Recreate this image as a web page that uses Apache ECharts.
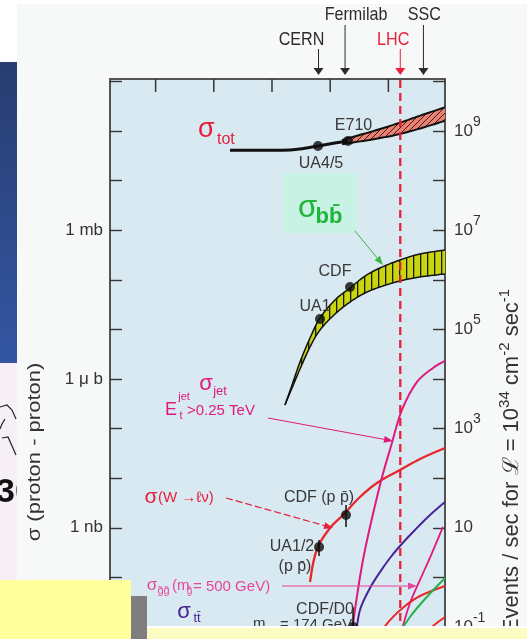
<!DOCTYPE html>
<html>
<head>
<meta charset="utf-8">
<title>σ (proton - proton)</title>
<script src="https://cdn.jsdelivr.net/npm/echarts@6.0.0/dist/echarts.min.js"></script>
<style>
html,body{margin:0;padding:0;background:#ffffff;overflow:hidden}
#chart{width:527px;height:639px}
</style>
</head>
<body>
<div id="chart"></div>
<script>
// ---------- DATA  (√s in TeV ; rate = events / sec for L = 1e34 cm^-2 s^-1) ----------
const accelerators = ['CERN', 'Fermilab', 'LHC', 'SSC'];
const accelEnergy  = [0.63, 1.8, 16, 40];

const totEnergy = [0.019, 0.05, 0.15, 0.3, 0.62, 1.2, 2.0];
const totRate   = [4.1e8, 4.1e8, 4.1e8, 4.33e8, 5.0e8, 5.7e8, 6.3e8];
const totBandEnergy = [1.6, 2.0, 5.9, 15.8, 42.4, 93.9];
const totBandUpper  = [6.5e8, 7.1e8, 1.02e9, 1.47e9, 2.2e9, 3.0e9];
const totBandLower  = [5.4e8, 5.65e8, 6.9e8, 8.7e8, 1.2e9, 1.61e9];

const bbEnergy = [0.167, 0.221, 0.303, 0.450, 0.668, 1.21, 2.19, 3.96, 7.17, 15.8, 34.9, 93.9];
const bbUpper  = [2990, 7570, 2.2e4, 6.71e4, 1.70e5, 3.92e5, 6.84e5, 1.19e6, 1.73e6, 2.51e6, 3.31e6, 3.99e6];
const bbLower  = [2990, 6590, 1.59e4, 4.42e4, 9.73e4, 2.04e5, 3.56e5, 5.42e5, 7.16e5, 9.46e5, 1.14e6, 1.31e6];

const wEnergy = [0.450, 0.593, 0.992, 1.66, 3.25, 6.37, 15.8, 34.9, 93.9];
const wRate   = [0.807, 3.74, 9.91, 18.1, 41.8, 80, 146, 244, 406];

const jetEnergy = [2.3, 3.66, 7.17, 11.5, 17.1, 31.0, 58.4, 93.9];
const jetRate   = [0.063, 2.24, 72.9, 513, 2372, 8710, 1.67e4, 2.31e4];

const ttEnergy = [2.77, 3.25, 4.83, 7.17, 10.65, 15.8, 28.6, 51.9, 93.9];
const ttRate   = [0.063, 0.22, 0.611, 1.28, 2.46, 4.30, 9.03, 18.1, 33.1];

const gluinoEnergy = [15.8, 23.5, 34.9, 56.1, 86.7];
const gluinoRate   = [0.063, 0.305, 0.887, 3.10, 10.4];

const redAEnergy  = [5.89, 10.65, 19.3, 34.9, 93.9];
const redARate    = [0.0547, 0.138, 0.265, 0.422, 0.671];
const greenEnergy = [12.98, 23.5, 42.5, 93.9];
const greenRate   = [0.0547, 0.159, 0.367, 0.973];
const redBEnergy  = [34.9, 56.1, 93.9];
const redBRate    = [0.0547, 0.1, 0.159];

const pointNames   = ['UA4/5', 'E710', 'UA1', 'CDF', 'UA1/2', 'CDF (p p̄)', 'CDF/D0'];
const pointEnergy  = [0.617, 2.02, 0.668, 2.19, 0.643, 1.87, 2.47];
const pointRate    = [4.99e8, 6.28e8, 1.62e5, 7.16e5, 4.1, 18.1, 0.1];
const pointErrLow  = [null, null, null, null, 2.7, 10.4, 0.1];
const pointErrHigh = [null, null, null, null, 5.68, 28.8, 0.25];

const xTickValues      = [1e-3, 1e-2, 1e-1, 1, 10];
const leftTickDecades  = [7, 4, 1];
const leftTickLabels   = ['1 mb', '1 μ b', '1 nb'];
const rightTickDecades = [9, 7, 5, 3, 1, -1];

const xMin = 1.646e-4, xMax = 93.9;
const yMin = 0.1, yMax = 1.117e10;

// ---------- helpers ----------
const FONT  = '"Liberation Sans", Arial, sans-serif';
const RED = '#e3213c', MAG = '#e0197c', MAG2 = '#e8459a', PUR = '#4a2399', GRN = '#1fb43a', GRAY = '#383838';
const pair = (xs, ys) => xs.map((x, i) => [x, ys[i]]);

function catmull(pts, seg) {
  if (pts.length < 3) return pts;
  const out = [];
  for (let i = 0; i < pts.length - 1; i++) {
    const p0 = pts[Math.max(i - 1, 0)], p1 = pts[i], p2 = pts[i + 1], p3 = pts[Math.min(i + 2, pts.length - 1)];
    for (let t = 0; t < seg; t++) {
      const s = t / seg, s2 = s * s, s3 = s2 * s;
      const f = k => 0.5 * ((2 * p1[k]) + (-p0[k] + p2[k]) * s + (2 * p0[k] - 5 * p1[k] + 4 * p2[k] - p3[k]) * s2 + (-p0[k] + 3 * p1[k] - 3 * p2[k] + p3[k]) * s3);
      out.push([f(0), f(1)]);
    }
  }
  out.push(pts[pts.length - 1]);
  return out;
}
function pattern(w, h, bg, draw) {
  const c = document.createElement('canvas'); c.width = w; c.height = h;
  const g = c.getContext('2d'); g.fillStyle = bg; g.fillRect(0, 0, w, h); draw(g);
  return {image: c, repeat: 'repeat'};
}
const bbFill = pattern(7, 7, '#c9d50e', g => { g.fillStyle = '#1a1a1a'; g.fillRect(0, 0, 1.3, 7); });
const totFill = pattern(6, 6, '#e98272', g => {
  g.strokeStyle = '#2a100c'; g.lineWidth = 0.9;
  g.beginPath(); g.moveTo(-1, 7); g.lineTo(7, -1); g.stroke();
});

function bandSeries(E, up, lo, fill, edgeColor, edgeWidth, z) {
  return {
    type: 'custom', coordinateSystem: 'cartesian2d', clip: true, z: z, silent: true,
    data: [[E[0], up[0]]],
    renderItem: function (params, api) {
      const top = catmull(E.map((e, i) => api.coord([e, up[i]])), 10);
      const bot = catmull(E.map((e, i) => api.coord([e, lo[i]])), 10);
      const poly = top.concat(bot.slice().reverse());
      return {type: 'group', children: [
        {type: 'polygon', shape: {points: poly}, style: {fill: fill, stroke: null}},
        {type: 'polyline', shape: {points: top}, style: {stroke: edgeColor, lineWidth: edgeWidth, fill: null}},
        {type: 'polyline', shape: {points: bot}, style: {stroke: edgeColor, lineWidth: edgeWidth, fill: null}}
      ]};
    }
  };
}
function curve(E, R, color, width, z) {
  return {type: 'line', data: pair(E, R), smooth: 0.35, showSymbol: false, symbol: 'none',
    lineStyle: {color: color, width: width}, z: z || 4, silent: true, clip: true};
}
function T(x, y, text, font, color, align, extra) {
  const e = {type: 'text', x: x, y: y, z: 30, silent: true,
    style: {text: text, font: font, fill: color, align: align || 'left', verticalAlign: 'middle',
            textAlign: align || 'left', textVerticalAlign: 'middle'}};
  if (extra) Object.keys(extra).forEach(k => { if (k === 'style') Object.assign(e.style, extra.style); else e[k] = extra[k]; });
  return e;
}
function ARROW(x1, y1, x2, y2, color, lw, dash) {
  const a = Math.atan2(y2 - y1, x2 - x1), hl = 9, hw = 3.5;
  const bx = x2 - hl * Math.cos(a), by = y2 - hl * Math.sin(a);
  const px = -Math.sin(a) * hw, py = Math.cos(a) * hw;
  return [
    {type: 'line', z: 30, silent: true, shape: {x1: x1, y1: y1, x2: bx, y2: by}, style: {stroke: color, lineWidth: lw, lineDash: dash || null}},
    {type: 'polygon', z: 30, silent: true, shape: {points: [[x2, y2], [bx + px, by + py], [bx - px, by - py]]}, style: {fill: color}}
  ];
}
const isDecade = v => Math.abs(Math.log10(v) - Math.round(Math.log10(v))) < 1e-6;

const accelLayout = [
  {dx: -17, ty: 40, lineTop: 49, color: '#2b2b2b'},
  {dx: 11, ty: 15, lineTop: 25, color: '#2b2b2b'},
  {dx: -7, ty: 40, lineTop: 49, color: '#e8203a', dashed: true},
  {dx: 1, ty: 15, lineTop: 25, color: '#2b2b2b'}
];

const axisLineStyle = {color: '#4a4a4a', width: 1.5};
const tickStyle = {show: true, inside: true, length: 12, lineStyle: {color: '#333', width: 1.4}};

const graphics = [].concat(
  [
    {type: 'rect', z: -12, silent: true, shape: {x: 0, y: 363, width: 17, height: 217}, style: {fill: '#f6f0f6'}},
    {type: 'polyline', z: -11, silent: true, shape: {points: [[0, 407], [7, 405], [12, 410], [16, 419]]}, style: {stroke: '#222', lineWidth: 1.2, fill: null}},
    {type: 'polyline', z: -11, silent: true, shape: {points: [[5, 419], [2, 424], [0, 429]]}, style: {stroke: '#222', lineWidth: 1.2, fill: null}},
    {type: 'polyline', z: -11, silent: true, shape: {points: [[2, 438], [8, 437], [16, 455]]}, style: {stroke: '#222', lineWidth: 1.2, fill: null}},
    T(-4, 493, '30', 'bold 34px ' + FONT, '#111', 'left', {z: -11}),
    {type: 'rect', z: -10, silent: true, shape: {x: 17, y: 4, width: 510, height: 635}, style: {fill: '#f7f9f9'}},
    {type: 'rect', z: -10, silent: true, shape: {x: 0, y: 62, width: 17, height: 301},
      style: {fill: {type: 'linear', x: 0, y: 0, x2: 0, y2: 1, colorStops: [{offset: 0, color: '#283d70'}, {offset: 1, color: '#3456a3'}]}}},
    // axis titles
    T(35, 452, 'σ (proton - proton)', '22px ' + FONT, '#333', 'center', {rotation: Math.PI / 2, scaleY: 0.8}),
    T(512, 461, 'Events / sec for ℒ = 10{s|34} cm{s|-2} sec{s|-1}', '22px ' + FONT, '#333', 'center',
      {rotation: Math.PI / 2, style: {rich: {s: {font: '15px ' + FONT, fill: '#333', padding: [0, 0, 14, 0]}}}}),
    // sigma_tot
    T(198, 130, 'σ', '27px ' + FONT, RED), T(217, 140, 'tot', '16px ' + FONT, RED),
    T(353.5, 126, 'E710', '16px ' + FONT, GRAY, 'center'),
    T(321, 164, 'UA4/5', '16px ' + FONT, GRAY, 'center'),
    // sigma_bb
    {type: 'rect', z: 25, silent: true, shape: {x: 283, y: 173, width: 74, height: 60}, style: {fill: '#c8f2e3'}},
    T(307.5, 208.5, 'σ', '31px ' + FONT, GRN, 'center'), T(329, 217, 'bb̄', 'bold 22px ' + FONT, GRN, 'center'),
    T(335, 271.5, 'CDF', '16px ' + FONT, GRAY, 'center'),
    T(315, 306.5, 'UA1', '16px ' + FONT, GRAY, 'center'),
    // sigma_jet
    T(206, 384, 'σ', '22px ' + FONT, MAG, 'center'), T(220, 391, 'jet', '13px ' + FONT, MAG, 'center'),
    T(171, 410, 'E', '18px ' + FONT, MAG, 'center'), T(184, 397, 'jet', '11px ' + FONT, MAG, 'center'),
    T(181, 416, 't', '11px ' + FONT, MAG, 'center'), T(187, 410.5, '>0.25 TeV', '15px ' + FONT, MAG),
    // W
    T(151, 497, 'σ', '21px ' + FONT, RED, 'center'), T(158, 497.5, '(W →ℓν)', '15px ' + FONT, RED),
    T(319, 497.5, 'CDF (p p̄)', '16px ' + FONT, GRAY, 'center'),
    T(292, 546.5, 'UA1/2', '16px ' + FONT, GRAY, 'center'),
    T(295, 567, '(p p̄)', '16px ' + FONT, GRAY, 'center'),
    // gluino
    T(152, 585, 'σ', '17px ' + FONT, MAG2, 'center'), T(163.5, 591, 'g̃g̃', '11px ' + FONT, MAG2, 'center'),
    T(172, 586, '(m', '15px ' + FONT, MAG2), T(189.5, 591, 'g̃', '10px ' + FONT, MAG2, 'center'),
    T(193, 586.5, '= 500 GeV)', '15px ' + FONT, MAG2),
    // ttbar
    T(184, 612, 'σ', '22px ' + FONT, PUR, 'center'), T(197, 618, 'tt̄', '13px ' + FONT, PUR, 'center'),
    T(325, 610, 'CDF/D0', '16px ' + FONT, GRAY, 'center'),
    T(253, 624, 'm', '15px ' + FONT, GRAY), T(266, 631, 'top', '10px ' + FONT, GRAY),
    T(280, 624.5, '= 174 GeV', '15px ' + FONT, GRAY)
  ],
  ARROW(355, 231, 383, 265, '#3cb44a', 1),
  ARROW(268, 418, 393, 441, MAG, 1),
  ARROW(226, 498, 333, 528, RED, 1.2, [7, 3]),
  ARROW(282, 586, 417, 586, MAG2, 1),
  [
    {type: 'rect', z: 100, silent: true, shape: {x: 0, y: 580, width: 131, height: 59}, style: {fill: '#ffff9c'}},
    {type: 'rect', z: 100, silent: true, shape: {x: 131, y: 596, width: 16, height: 43}, style: {fill: '#7e7e7e'}},
    {type: 'rect', z: 100, silent: true, shape: {x: 147, y: 628, width: 380, height: 11}, style: {fill: '#fbfbc2'}},
    {type: 'rect', z: 100, silent: true, shape: {x: 147, y: 626, width: 380, height: 2}, style: {fill: '#ffffff'}}
  ]
);

const option = {
  backgroundColor: '#ffffff',
  animation: false,
  grid: {left: 110, top: 79, width: 335, height: 548, show: true, backgroundColor: '#d9e9f1',
         borderColor: '#4a4a4a', borderWidth: 1.5},
  xAxis: {type: 'log', position: 'top', min: xMin, max: xMax,
    axisLine: {show: true, onZero: false, lineStyle: axisLineStyle},
    axisTick: {show: false}, axisLabel: {show: false}, splitLine: {show: false}, minorTick: {show: false}},
  yAxis: [
    {type: 'log', position: 'left', min: yMin, max: yMax, interval: 1,
      axisLine: {show: true, onZero: false, lineStyle: axisLineStyle}, axisTick: tickStyle, splitLine: {show: false},
      axisLabel: {show: true, interval: 0, margin: 7, color: '#333', fontSize: 17, fontFamily: FONT,
        showMinLabel: true, showMaxLabel: false,
        formatter: v => { if (!isDecade(v)) return ''; const i = leftTickDecades.indexOf(Math.round(Math.log10(v))); return i < 0 ? '' : leftTickLabels[i]; }}},
    {type: 'log', position: 'right', min: yMin, max: yMax, interval: 1,
      axisLine: {show: true, onZero: false, lineStyle: axisLineStyle}, axisTick: tickStyle, splitLine: {show: false},
      axisLabel: {show: true, interval: 0, margin: 9, color: '#333', fontSize: 17, fontFamily: FONT,
        showMinLabel: true, showMaxLabel: false,
        rich: {s: {fontSize: 14, fontFamily: FONT, color: '#333', padding: [0, 0, 18, 0]}},
        formatter: v => { if (!isDecade(v)) return ''; const k = Math.round(Math.log10(v)); if (rightTickDecades.indexOf(k) < 0) return ''; return k === 1 ? '10' : '10{s|' + k + '}'; }}}
  ],
  graphic: {elements: graphics},
  series: [
    curve(totEnergy, totRate, '#111', 3, 5),
    bandSeries(totBandEnergy, totBandUpper, totBandLower, totFill, '#111', 2, 4),
    bandSeries(bbEnergy, bbUpper, bbLower, bbFill, '#111', 1.5, 4),
    curve(wEnergy, wRate, '#e8262c', 2.3, 5),
    curve(jetEnergy, jetRate, MAG, 2, 5),
    curve(ttEnergy, ttRate, PUR, 2, 5),
    curve(gluinoEnergy, gluinoRate, MAG, 1.8, 5),
    curve(redAEnergy, redARate, '#e8262c', 2, 5),
    curve(greenEnergy, greenRate, '#22b34a', 2, 5),
    curve(redBEnergy, redBRate, '#e8262c', 2, 5),
    {type: 'custom', coordinateSystem: 'cartesian2d', z: 6, silent: true,
      data: pointEnergy.map((e, i) => [e, pointErrLow[i], pointErrHigh[i]]).filter(d => d[1] != null),
      encode: {x: 0, y: [1, 2]},
      renderItem: (params, api) => {
        const a = api.coord([api.value(0), api.value(1)]), b = api.coord([api.value(0), api.value(2)]);
        return {type: 'line', shape: {x1: a[0], y1: a[1], x2: b[0], y2: b[1]}, style: {stroke: '#111', lineWidth: 1.5}};
      }},
    {type: 'scatter', name: 'data', data: pair(pointEnergy, pointRate), symbolSize: 10, itemStyle: {color: '#0d0d0d'}, z: 7, silent: true},
    {type: 'custom', coordinateSystem: 'cartesian2d', clip: false, z: 10, silent: true,
      data: accelEnergy.map(e => [e, yMax]),
      renderItem: (params, api) => {
        const i = params.dataIndex, L = accelLayout[i];
        const x = api.coord([api.value(0), api.value(1)])[0];
        const cs = params.coordSys, top = cs.y, bottom = cs.y + cs.height;
        const kids = [
          {type: 'line', shape: {x1: x, y1: L.lineTop, x2: x, y2: top - 9}, style: {stroke: L.color, lineWidth: 1}},
          {type: 'polygon', shape: {points: [[x - 5, top - 11], [x + 5, top - 11], [x, top - 4]]}, style: {fill: L.color}},
          {type: 'text', x: x + L.dx, y: L.ty, scaleX: 0.85, style: {text: accelerators[i], fill: L.color, font: '19px ' + FONT,
            align: 'center', verticalAlign: 'middle', textAlign: 'center', textVerticalAlign: 'middle'}}
        ];
        if (L.dashed) kids.push({type: 'line', shape: {x1: x, y1: top + 1, x2: x, y2: bottom}, style: {stroke: L.color, lineWidth: 2.3, lineDash: [8, 5]}});
        if (i === 0) {
          // decade ticks of the √s axis along the top frame, placed through the x scale
          xTickValues.forEach(v => {
            const tx = api.coord([v, yMax])[0];
            kids.push({type: 'line', shape: {x1: tx, y1: top, x2: tx, y2: top + 13}, style: {stroke: '#333', lineWidth: 1.5}});
          });
        }
        return {type: 'group', children: kids};
      }}
  ]
};

const chart = echarts.init(document.getElementById('chart'), null, {renderer: 'canvas', width: 527, height: 639});
chart.setOption(option);
</script>
</body>
</html>
